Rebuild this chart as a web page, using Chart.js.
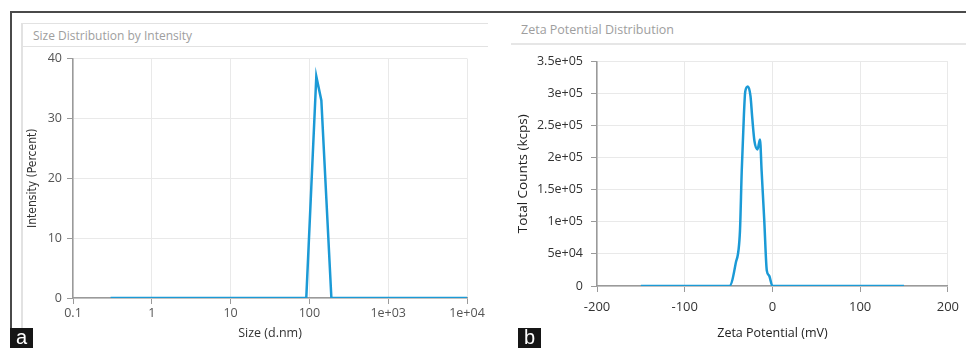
<!DOCTYPE html>
<html>
<head>
<meta charset="utf-8">
<script src="https://cdn.jsdelivr.net/npm/chart.js@4.4.1/dist/chart.umd.min.js"></script>
<style>
  html, body { margin:0; padding:0; }
  body { width:966px; height:348px; overflow:hidden; background:#fff; position:relative; font-family:'Open Sans', sans-serif; }
  .ln { position:absolute; }
  .ttl { position:absolute; white-space:nowrap; color:#9e9e9e; font-family:'Open Sans', sans-serif; }
  .tag { position:absolute; width:23px; height:20px; background:#161616; color:#fff; font-family:'Liberation Sans', Arial, sans-serif; font-size:20px; line-height:19px; text-align:center; }
  canvas { position:absolute; }
</style>
</head>
<body>
<!-- outer frame -->
<div class="ln" style="left:10px;top:11px;width:956px;height:1.5px;background:#4a4a4a"></div>
<div class="ln" style="left:10px;top:11px;width:1.5px;height:337px;background:#4a4a4a"></div>
<!-- left inner panel -->
<div class="ln" style="left:21px;top:23px;width:467px;height:1px;background:#e2e2e2"></div>
<div class="ln" style="left:21px;top:46px;width:467px;height:1px;background:#e2e2e2"></div>
<div class="ln" style="left:21px;top:23px;width:1.5px;height:325px;background:#e2e2e2"></div>
<!-- right panel separator -->
<div class="ln" style="left:511px;top:43px;width:455px;height:1.5px;background:#e6e6e6"></div>

<div class="ttl" style="left:33px;top:27px;font-size:12px;line-height:18px;">Size Distribution by Intensity</div>
<div class="ttl" style="left:521px;top:21px;font-size:12.5px;line-height:18px;">Zeta Potential Distribution</div>

<canvas id="c1" width="490" height="302" style="left:0px;top:46px;"></canvas>
<canvas id="c2" width="476" height="302" style="left:490px;top:46px;"></canvas>

<div class="tag" style="left:10px;top:328px;">a</div>
<div class="tag" style="left:518px;top:328px;">b</div>

<script>
// ---- Panel a: size distribution by intensity ----
const sizeNm        = [0.3, 91.28, 105.7, 122.4, 141.8, 164.2, 190.1, 10000];
const intensityPct  = [0,   0,     18.5,  37,    33,    16.5,  0,     0];
const sizeTicks      = [0.1, 1, 10, 100, 1000, 10000];
const sizeTickLabels = ['0.1', '1', '10', '100', '1e+03', '1e+04'];
const intensityTicks = [0, 10, 20, 30, 40];

// ---- Panel b: zeta potential distribution ----
const zetaMv     = [-150, -49, -42, -37, -35, -32.5, -31, -28, -25, -23, -20.5, -17, -14.2, -12.3, -9.3, -6.4, -3.7, 0, 150];
const zetaCounts = [0, 0, 34500, 86000, 179000, 267000, 303000, 311000, 296000, 262000, 226000, 213000, 228500, 179000, 102000, 24000, 16000, 0, 0];
const zetaXTicks       = [-200, -100, 0, 100, 200];
const zetaYTicks       = [0, 50000, 100000, 150000, 200000, 250000, 300000, 350000];
const zetaYTickLabels  = ['0', '5e+04', '1e+05', '1.5e+05', '2e+05', '2.5e+05', '3e+05', '3.5e+05'];

const LINE = '#1b9ad6';
const GRID = '#e9e9e9';
const AXIS = '#9a9a9a';
const SANS = "'Open Sans', 'Noto Sans', sans-serif";

Chart.defaults.animation = false;

new Chart(document.getElementById('c1'), {
  type: 'line',
  data: {
    datasets: [{
      data: sizeNm.map((x, i) => ({x, y: intensityPct[i]})),
      borderColor: LINE, borderWidth: 2.5, pointRadius: 0, tension: 0, fill: false
    }]
  },
  options: {
    responsive: false, devicePixelRatio: 1,
    layout: { padding: { left: 0, top: 0, right: 23, bottom: 0 } },
    plugins: { legend: { display: false }, tooltip: { enabled: false } },
    scales: {
      x: {
        type: 'logarithmic', min: 0.1, max: 10000,
        afterBuildTicks: s => { s.ticks = sizeTicks.map(v => ({ value: v })); },
        afterFit: s => { s.height = 50; },
        ticks: {
          autoSkip: false, maxRotation: 0, padding: 2, color: '#555',
          font: { family: SANS, size: 12.5 },
          callback: (v) => sizeTickLabels[sizeTicks.indexOf(v)]
        },
        grid: { color: GRID, tickColor: AXIS, tickLength: 6 },
        border: { color: AXIS, width: 1.5 },
        title: { display: true, text: 'Size (d.nm)', color: '#333', font: { family: SANS, size: 12.5 }, padding: { top: 0, bottom: 7 } }
      },
      y: {
        min: 0, max: 40,
        afterBuildTicks: s => { s.ticks = intensityTicks.map(v => ({ value: v })); },
        afterFit: s => { s.width = 73; },
        ticks: { padding: 5, color: '#555', font: { family: SANS, size: 12.5 } },
        grid: { color: GRID, tickColor: AXIS, tickLength: 6 },
        border: { color: AXIS, width: 1.5 },
        title: { display: true, text: 'Intensity (Percent)', color: '#333',
                 font: { family: "'Liberation Sans Narrow', 'DejaVu Sans Condensed', sans-serif", size: 12 },
                 padding: { top: 26, bottom: 0 } }
      }
    }
  }
});

new Chart(document.getElementById('c2'), {
  type: 'line',
  data: {
    datasets: [{
      data: zetaMv.map((x, i) => ({x, y: zetaCounts[i]})),
      borderColor: LINE, borderWidth: 2.5, pointRadius: 0, cubicInterpolationMode: 'monotone', fill: false
    }]
  },
  options: {
    responsive: false, devicePixelRatio: 1,
    layout: { padding: { left: 0, top: 0, right: 13, bottom: 0 } },
    plugins: { legend: { display: false }, tooltip: { enabled: false } },
    scales: {
      x: {
        type: 'linear', min: -200, max: 200,
        afterBuildTicks: s => { s.ticks = zetaXTicks.map(v => ({ value: v })); },
        afterFit: s => { s.height = 62; },
        ticks: { autoSkip: false, maxRotation: 0, padding: 7, color: '#333', font: { family: SANS, size: 13 },
                 callback: v => String(v) },
        grid: { color: GRID, tickColor: AXIS, tickLength: 6 },
        border: { color: AXIS, width: 1.5 },
        title: { display: true, text: 'Zeta Potential (mV)', color: '#222', font: { family: SANS, size: 12.5 }, padding: { top: 0, bottom: 7.5 } }
      },
      y: {
        min: 0, max: 350000,
        afterBuildTicks: s => { s.ticks = zetaYTicks.map(v => ({ value: v })); },
        afterFit: s => { s.width = 107; },
        ticks: { padding: 8, color: '#333', font: { family: SANS, size: 12.5 },
                 callback: v => zetaYTickLabels[zetaYTicks.indexOf(v)] },
        grid: { color: GRID, tickColor: AXIS, tickLength: 6 },
        border: { color: AXIS, width: 1.5 },
        title: { display: true, text: 'Total Counts (kcps)', color: '#222', font: { family: SANS, size: 13.5 },
                 padding: { top: 25, bottom: 0 } }
      }
    }
  }
});
</script>
</body>
</html>
